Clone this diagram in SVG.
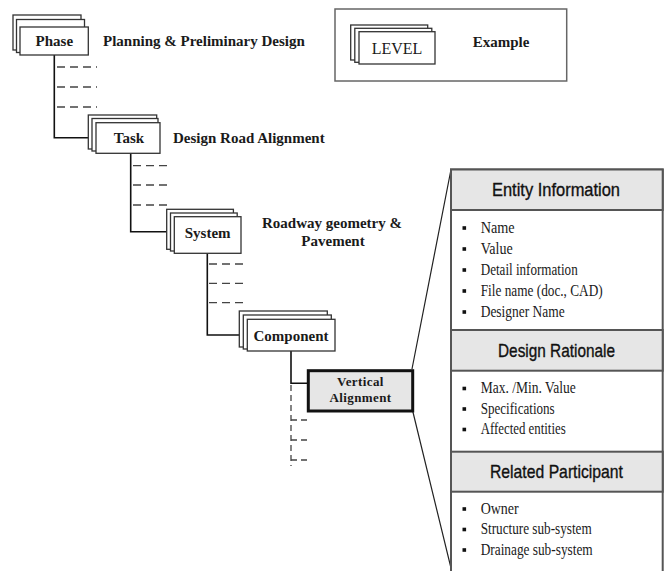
<svg xmlns="http://www.w3.org/2000/svg" width="669" height="571" viewBox="0 0 669 571">
  <style>
    .card { fill: #ffffff; stroke: #333333; stroke-width: 1.3; }
    .lvl { font-family: "Liberation Serif", "Times New Roman", serif; font-weight: bold; font-size: 15px; fill: #1a1a1a; text-anchor: middle; }
    .note { font-family: "Liberation Serif", "Times New Roman", serif; font-weight: bold; font-size: 15px; fill: #1a1a1a; }
    .link { fill: none; stroke: #111111; stroke-width: 1.6; }
    .dash { fill: none; stroke: #444444; stroke-width: 1.3; stroke-dasharray: 8 5; }
    .dash2 { fill: none; stroke: #444444; stroke-width: 1.3; stroke-dasharray: 6 4; }
    .zoom { fill: none; stroke: #222222; stroke-width: 1.2; }
    .panel { fill: #ffffff; stroke: #555555; stroke-width: 2; }
    .head { fill: #e6e6e6; stroke: #555555; stroke-width: 2; }
    .htxt { font-family: "Liberation Sans", Arial, sans-serif; font-size: 19px; fill: #111111; stroke: #111111; stroke-width: 0.35; text-anchor: middle; }
    .item { font-family: "Liberation Serif", "Times New Roman", serif; font-size: 16px; fill: #1a1a1a; }
    .bul { fill: #111111; }
  </style>

  <!-- legend -->
  <g id="legend">
    <rect x="335" y="9" width="231.7" height="72" fill="#ffffff" stroke="#666666" stroke-width="1.5"/>
    <rect class="card" x="350.7" y="25" width="77" height="35"/>
    <rect class="card" x="354.8" y="28.3" width="77" height="34"/>
    <rect class="card" x="359" y="31.7" width="76" height="32.3"/>
    <text x="397" y="54" font-family="Liberation Serif, Times New Roman, serif" font-size="16" fill="#1a1a1a" text-anchor="middle">LEVEL</text>
    <text class="note" x="472.7" y="47">Example</text>
  </g>

  <!-- tree connectors -->
  <g id="connectors">
    <path class="link" d="M54.3 55 V137.7 H96"/>
    <path class="dash" d="M57 67 H97 M57 87 H97 M57 107 H97"/>
    <path class="link" d="M130.7 153.3 V231.7 H174.3"/>
    <path class="dash" d="M133 165.7 H172 M133 185 H172 M133 205 H172"/>
    <path class="link" d="M207.3 253.3 V335 H247.3"/>
    <path class="dash" d="M209 264 H247 M209 283.3 H247 M209 302.7 H247"/>
    <path class="link" d="M291 351 V383.3 H308.3"/>
    <path class="dash2" d="M291 385 V466"/>
    <path class="dash2" d="M291 420 H311 M291 440 H311 M291 460 H311"/>
    <path class="zoom" d="M412 369 L451 169.5 M412.7 411 L451.7 571"/>
  </g>

  <!-- level: phase -->
  <g id="phase">
    <rect class="card" x="13" y="15" width="68" height="35"/>
    <rect class="card" x="16.5" y="19.5" width="68" height="33"/>
    <rect class="card" x="20" y="27" width="68.3" height="28"/>
    <text class="lvl" x="54.3" y="46">Phase</text>
    <text class="note" x="103" y="46">Planning &amp; Preliminary Design</text>
  </g>

  <!-- level: task -->
  <g id="task">
    <rect class="card" x="88.3" y="115" width="68.4" height="34"/>
    <rect class="card" x="92" y="118.5" width="66" height="32.5"/>
    <rect class="card" x="96" y="122.7" width="64" height="30.6"/>
    <text class="lvl" x="129" y="143">Task</text>
    <text class="note" x="173" y="143">Design Road Alignment</text>
  </g>

  <!-- level: system -->
  <g id="system">
    <rect class="card" x="166.7" y="209.3" width="66.7" height="40"/>
    <rect class="card" x="170.5" y="213" width="66.7" height="38"/>
    <rect class="card" x="174.3" y="216.7" width="66.7" height="36.6"/>
    <text class="lvl" x="207.7" y="237.5">System</text>
    <text class="note" x="262" y="228">Roadway geometry &amp;</text>
    <text class="note" x="333" y="246" text-anchor="middle">Pavement</text>
  </g>

  <!-- level: component -->
  <g id="component">
    <rect class="card" x="239.3" y="311" width="88" height="36"/>
    <rect class="card" x="243.3" y="315" width="88" height="34"/>
    <rect class="card" x="247.3" y="319.3" width="87.7" height="31.7"/>
    <text class="lvl" x="291" y="340.5">Component</text>
  </g>

  <!-- selected entity -->
  <g id="vertical-alignment">
    <rect x="308.3" y="370.7" width="104.4" height="40.3" fill="#e6e6e6" stroke="#111111" stroke-width="3"/>
    <text x="360.5" y="386" font-family="Liberation Serif, Times New Roman, serif" font-weight="bold" font-size="13" letter-spacing="0.4" fill="#1a1a1a" text-anchor="middle">Vertical</text>
    <text x="360.5" y="402" font-family="Liberation Serif, Times New Roman, serif" font-weight="bold" font-size="13" letter-spacing="0.4" fill="#1a1a1a" text-anchor="middle">Alignment</text>
  </g>

  <!-- attribute panel -->
  <g id="attribute-panel">
    <rect class="panel" x="451" y="169.5" width="211.7" height="420"/>

    <g id="entity-information">
      <rect class="head" x="451" y="169.5" width="211.7" height="40.5"/>
      <text class="htxt" x="556" y="195.5" textLength="128" lengthAdjust="spacingAndGlyphs">Entity  Information</text>
      <rect class="bul" x="462.5" y="226.2" width="3.6" height="3.6"/>
      <text class="item" x="480.7" y="233" textLength="34" lengthAdjust="spacingAndGlyphs">Name</text>
      <rect class="bul" x="462.5" y="247.2" width="3.6" height="3.6"/>
      <text class="item" x="480.7" y="254" textLength="32" lengthAdjust="spacingAndGlyphs">Value</text>
      <rect class="bul" x="462.5" y="268.2" width="3.6" height="3.6"/>
      <text class="item" x="480.7" y="275" textLength="97" lengthAdjust="spacingAndGlyphs">Detail information</text>
      <rect class="bul" x="462.5" y="289.2" width="3.6" height="3.6"/>
      <text class="item" x="480.7" y="296" textLength="122" lengthAdjust="spacingAndGlyphs">File name (doc., CAD)</text>
      <rect class="bul" x="462.5" y="310.2" width="3.6" height="3.6"/>
      <text class="item" x="480.7" y="317" textLength="84" lengthAdjust="spacingAndGlyphs">Designer Name</text>
    </g>

    <g id="design-rationale">
      <rect class="head" x="451" y="330" width="211.7" height="40.7"/>
      <text class="htxt" x="556.5" y="356.5" textLength="117" lengthAdjust="spacingAndGlyphs">Design  Rationale</text>
      <rect class="bul" x="462.5" y="386.7" width="3.6" height="3.6"/>
      <text class="item" x="480.7" y="393.3" textLength="95" lengthAdjust="spacingAndGlyphs">Max. /Min. Value</text>
      <rect class="bul" x="462.5" y="407.2" width="3.6" height="3.6"/>
      <text class="item" x="480.7" y="413.5" textLength="74" lengthAdjust="spacingAndGlyphs">Specifications</text>
      <rect class="bul" x="462.5" y="427.7" width="3.6" height="3.6"/>
      <text class="item" x="480.7" y="434" textLength="85" lengthAdjust="spacingAndGlyphs">Affected entities</text>
    </g>

    <g id="related-participant">
      <rect class="head" x="451" y="451.7" width="211.7" height="40"/>
      <text class="htxt" x="556.5" y="477.5" textLength="133" lengthAdjust="spacingAndGlyphs">Related  Participant</text>
      <rect class="bul" x="462.5" y="507.2" width="3.6" height="3.6"/>
      <text class="item" x="480.7" y="513.5" textLength="38" lengthAdjust="spacingAndGlyphs">Owner</text>
      <rect class="bul" x="462.5" y="527.7" width="3.6" height="3.6"/>
      <text class="item" x="480.7" y="534.3" textLength="111" lengthAdjust="spacingAndGlyphs">Structure sub-system</text>
      <rect class="bul" x="462.5" y="548.2" width="3.6" height="3.6"/>
      <text class="item" x="480.7" y="554.5" textLength="112" lengthAdjust="spacingAndGlyphs">Drainage sub-system</text>
    </g>
  </g>
</svg>
